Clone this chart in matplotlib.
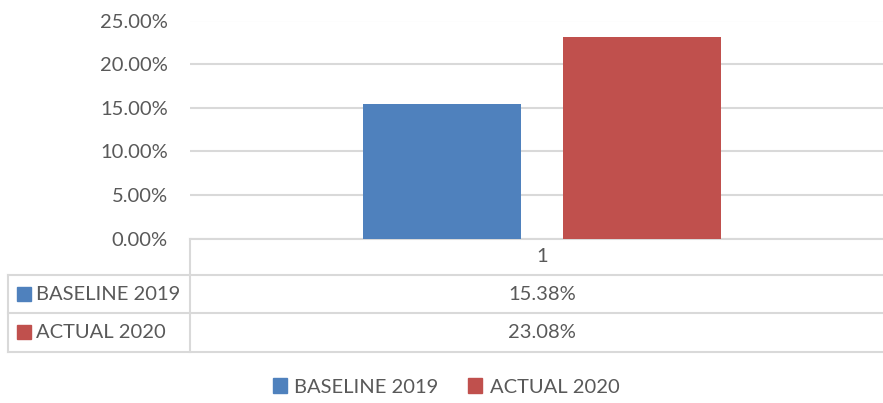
import matplotlib.pyplot as plt
from matplotlib.patches import Patch, Rectangle
from matplotlib.lines import Line2D

# data
categories = ["1"]
series_names = ["BASELINE 2019", "ACTUAL 2020"]
series_values = [15.38, 23.08]   # percent
y_ticks = [0, 5, 10, 15, 20, 25]

colors = ["#4F81BD", "#C0504D"]
text_col = "#595959"
line_col = "#D9D9D9"

W, H = 883, 403
plt.rcParams["font.family"] = ["Lato", "DejaVu Sans"]
fs = 14.5

fig = plt.figure(figsize=(W / 100, H / 100), dpi=100)


def fx(px):
    return px / W


def fy(py):
    return 1 - py / H


# plot area (px from top-left); right edge runs past the image a bit
left, right, top, bottom = 190, 894, 20.5, 238.5
ax = fig.add_axes([fx(left), fy(bottom), (right - left) / W, (bottom - top) / H])

bw = 0.2244
offs = [-0.142, 0.142]
for i, name in enumerate(series_names):
    ax.bar([offs[i]], [series_values[i]], width=bw, color=colors[i], zorder=3)

ax.set_xlim(-0.5, 0.5)
ax.set_ylim(0, 25)
ax.set_yticks(y_ticks)
ax.set_yticklabels([f"{t:.2f}%" for t in y_ticks])
ax.set_xticks([])
ax.tick_params(axis="y", length=0, pad=16, labelsize=fs, labelcolor=text_col)
ax.grid(axis="y", color=line_col, linewidth=1.5, zorder=0)
for s in ["left", "right", "top"]:
    ax.spines[s].set_visible(False)
ax.spines["bottom"].set_color(line_col)
ax.spines["bottom"].set_linewidth(1.5)

# data table below the axis
def hline(y, x0, x1):
    fig.add_artist(Line2D([fx(x0), fx(x1)], [fy(y), fy(y)], color=line_col, lw=1.5))


def vline(x, y0, y1):
    fig.add_artist(Line2D([fx(x), fx(x)], [fy(y0), fy(y1)], color=line_col, lw=1.5))


hline(275, 8, 883)
hline(313, 8, 883)
hline(352, 8, 883)
vline(190, 239, 352)
vline(8, 275, 352)

cx = 542
fig.text(fx(cx), fy(257), categories[0], ha="center", va="center", fontsize=fs, color=text_col)
row_y = [294, 332]
for i, name in enumerate(series_names):
    fig.add_artist(Rectangle((fx(17), fy(row_y[i] + 7)), 14 / W, 14 / H, color=colors[i],
                             transform=fig.transFigure))
    fig.text(fx(36), fy(row_y[i]), name, ha="left", va="center", fontsize=fs, color=text_col)
    fig.text(fx(cx), fy(row_y[i]), f"{series_values[i]:.2f}%", ha="center", va="center",
             fontsize=fs, color=text_col)

# legend
handles = [Patch(color=c) for c in colors]
fig.legend(handles, series_names, loc="center", bbox_to_anchor=(fx(446), fy(387)), ncol=2,
           frameon=False, fontsize=fs, labelcolor=text_col, handlelength=0.7, handleheight=0.7,
           handletextpad=0.35, columnspacing=1.5)

fig.savefig("out.png", dpi=100)
